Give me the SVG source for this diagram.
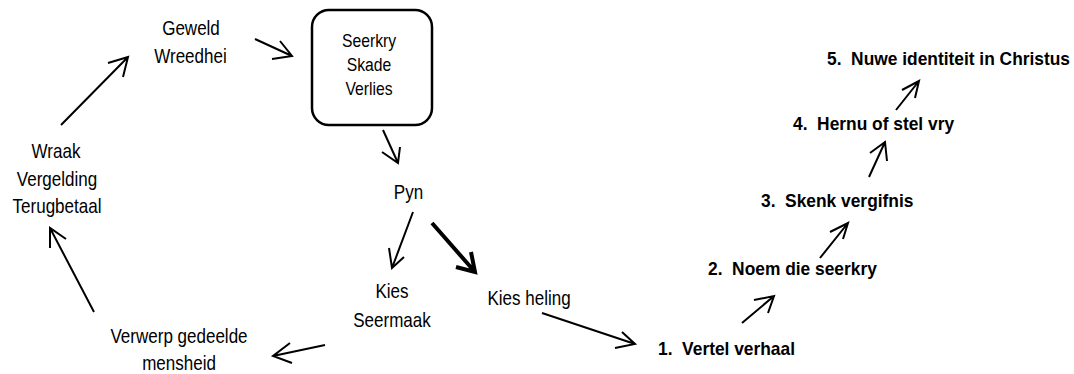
<svg xmlns="http://www.w3.org/2000/svg" width="1074" height="374" viewBox="0 0 1074 374">
<style>
text{font-family:"Liberation Sans",Arial,sans-serif;fill:#000}
.n{font-size:20.5px;text-anchor:middle}
.bx{font-size:18.5px;text-anchor:middle}
.b{font-size:18px;font-weight:bold;white-space:pre}
.arr{fill:none;stroke:#000;stroke-width:2;stroke-linecap:butt;stroke-linejoin:miter}
.arr.thick{stroke-width:4}
.box{fill:#fff;stroke:#000;stroke-width:2.5}
</style>
<rect width="1074" height="374" fill="#fff"/>
<g id="connectors">
<path class="arr" d="M61 125 L128 57 M108 63 L128 57 L123 77"/>
<path class="arr" d="M255 39 L292 56 M272 59 L292 56 L280 41"/>
<path class="arr" d="M383 130 L398 163 M382 152 L398 163 L400 147"/>
<path class="arr" d="M413 212 L392 268 M389 248 L392 268 L404 257"/>
<path class="arr thick" d="M432 223 L475 272 M456 267 L475 272 L471 252"/>
<path class="arr" d="M542 313 L635 344 M615 348 L635 344 L622 332"/>
<path class="arr" d="M325 345 L273 356 M290 343 L273 356 L292 363"/>
<path class="arr" d="M94 312 L50 228 M50 248 L50 228 L66 239"/>
<path class="arr" d="M742 323 L774 296 M754 300 L774 296 L768 313"/>
<path class="arr" d="M820 258 L848 223 M830 232 L848 223 L843 239"/>
<path class="arr" d="M869 177 L885 142 M870 153 L885 142 L887 161"/>
<path class="arr" d="M896 110 L919 81 M902 90 L919 81 L915 98"/>
</g>
<g id="geweld">
<text class="n" transform="translate(191,35) scale(0.83,1)">Geweld</text>
<text class="n" transform="translate(190.5,63) scale(0.83,1)">Wreedhei</text>
</g>
<g id="seerkry">
<rect class="box" x="312" y="10" width="120" height="115" rx="17" ry="17"/>
<text class="bx" transform="translate(369,47) scale(0.85,1)">Seerkry</text>
<text class="bx" transform="translate(369,71) scale(0.85,1)">Skade</text>
<text class="bx" transform="translate(369,95) scale(0.85,1)">Verlies</text>
</g>
<g id="pyn">
<text class="n" transform="translate(408.5,199) scale(0.83,1)">Pyn</text>
</g>
<g id="kies-seermaak">
<text class="n" transform="translate(392,298) scale(0.83,1)">Kies</text>
<text class="n" transform="translate(392,327) scale(0.83,1)">Seermaak</text>
</g>
<g id="kies-heling">
<text class="n" transform="translate(529,305) scale(0.83,1)">Kies heling</text>
</g>
<g id="verwerp">
<text class="n" transform="translate(179,343) scale(0.83,1)">Verwerp gedeelde</text>
<text class="n" transform="translate(179,370) scale(0.83,1)">mensheid</text>
</g>
<g id="wraak">
<text class="n" transform="translate(56,158) scale(0.83,1)">Wraak</text>
<text class="n" transform="translate(57,186) scale(0.83,1)">Vergelding</text>
<text class="n" transform="translate(57,213) scale(0.83,1)">Terugbetaal</text>
</g>
<g id="step1">
<text class="b" xml:space="preserve" transform="translate(658,355) scale(0.965,1)">1.  Vertel verhaal</text>
</g>
<g id="step2">
<text class="b" xml:space="preserve" transform="translate(708,275) scale(0.965,1)">2.  Noem die seerkry</text>
</g>
<g id="step3">
<text class="b" xml:space="preserve" transform="translate(761,207) scale(0.965,1)">3.  Skenk vergifnis</text>
</g>
<g id="step4">
<text class="b" xml:space="preserve" transform="translate(793,130) scale(0.965,1)">4.  Hernu of stel vry</text>
</g>
<g id="step5">
<text class="b" xml:space="preserve" transform="translate(827,65) scale(0.965,1)">5.  Nuwe identiteit in Christus</text>
</g>
</svg>
